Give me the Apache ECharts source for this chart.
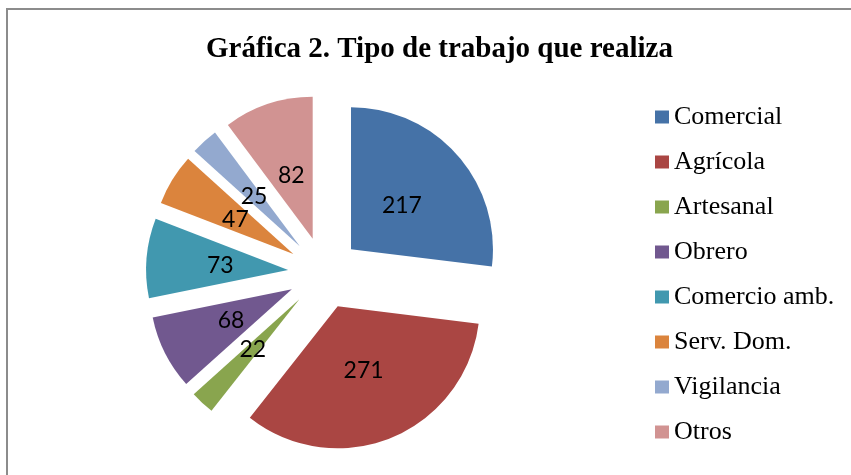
<!DOCTYPE html>
<html>
<head>
<meta charset="utf-8">
<script src="https://cdn.jsdelivr.net/npm/echarts@6/dist/echarts.min.js"></script>
<style>
  html, body { margin: 0; padding: 0; background: #fff; }
  #chart { width: 851px; height: 475px; }
</style>
</head>
<body>
<div id="chart"></div>
<script>
var categories = ['Comercial', 'Agrícola', 'Artesanal', 'Obrero', 'Comercio amb.', 'Serv. Dom.', 'Vigilancia', 'Otros']
var values = [217, 271, 22, 68, 73, 47, 25, 82]
var colors = ['#4572A7', '#AA4643', '#89A54E', '#71588F', '#4198AF', '#DB843D', '#93A9CF', '#D19392']

var chart = echarts.init(document.getElementById('chart'))

var pieData = categories.map(function (name, i) {
  return { name: name, value: values[i], selected: true }
})

chart.setOption({
  animation: false,
  color: colors,
  title: {
    text: 'Gráfica 2. Tipo de trabajo que realiza',
    left: 206,
    top: 35,
    padding: 0,
    textStyle: {
      fontFamily: 'Liberation Serif',
      fontWeight: 'bold',
      fontSize: 29,
      color: '#000'
    }
  },
  legend: {
    orient: 'vertical',
    left: 655,
    top: 104,
    padding: 0,
    icon: 'rect',
    itemWidth: 14,
    itemHeight: 13,
    itemGap: 19,
    itemTextGap: 6,
    data: categories,
    selectedMode: false,
    textStyle: {
      fontFamily: 'Liberation Serif',
      fontSize: 26,
      lineHeight: 26,
      color: '#000'
    }
  },
  graphic: [{
    type: 'rect',
    shape: { x: 7, y: 9, width: 1000, height: 1000 },
    style: { fill: 'none', stroke: '#8c8c8c', lineWidth: 2 }
  }],
  series: [{
    // slices
    name: 'slices',
    type: 'pie',
    center: [324, 273],
    radius: 142,
    startAngle: 90,
    clockwise: true,
    selectedMode: 'multiple',
    selectedOffset: 36,
    label: { show: false },
    labelLine: { show: false },
    emphasis: { disabled: true },
    select: { itemStyle: { borderWidth: 0 } },
    data: pieData
  }, {
    // value labels, a bit closer to the slice tip than the default
    name: 'labels',
    type: 'pie',
    silent: true,
    center: [324, 274],
    radius: 130,
    startAngle: 90,
    clockwise: true,
    selectedMode: 'multiple',
    selectedOffset: 36,
    avoidLabelOverlap: false,
    minShowLabelAngle: 0,
    labelLayout: { hideOverlap: false },
    itemStyle: { color: 'rgba(0,0,0,0)' },
    label: {
      show: true,
      position: 'inside',
      formatter: '{c}',
      color: '#000',
      fontFamily: 'Lato',
      fontSize: 23,
      textBorderWidth: 0
    },
    labelLine: { show: false },
    emphasis: { disabled: true },
    select: {
      itemStyle: { color: 'rgba(0,0,0,0)', borderWidth: 0 },
      label: { color: '#000' }
    },
    data: pieData
  }]
})
</script>
</body>
</html>
